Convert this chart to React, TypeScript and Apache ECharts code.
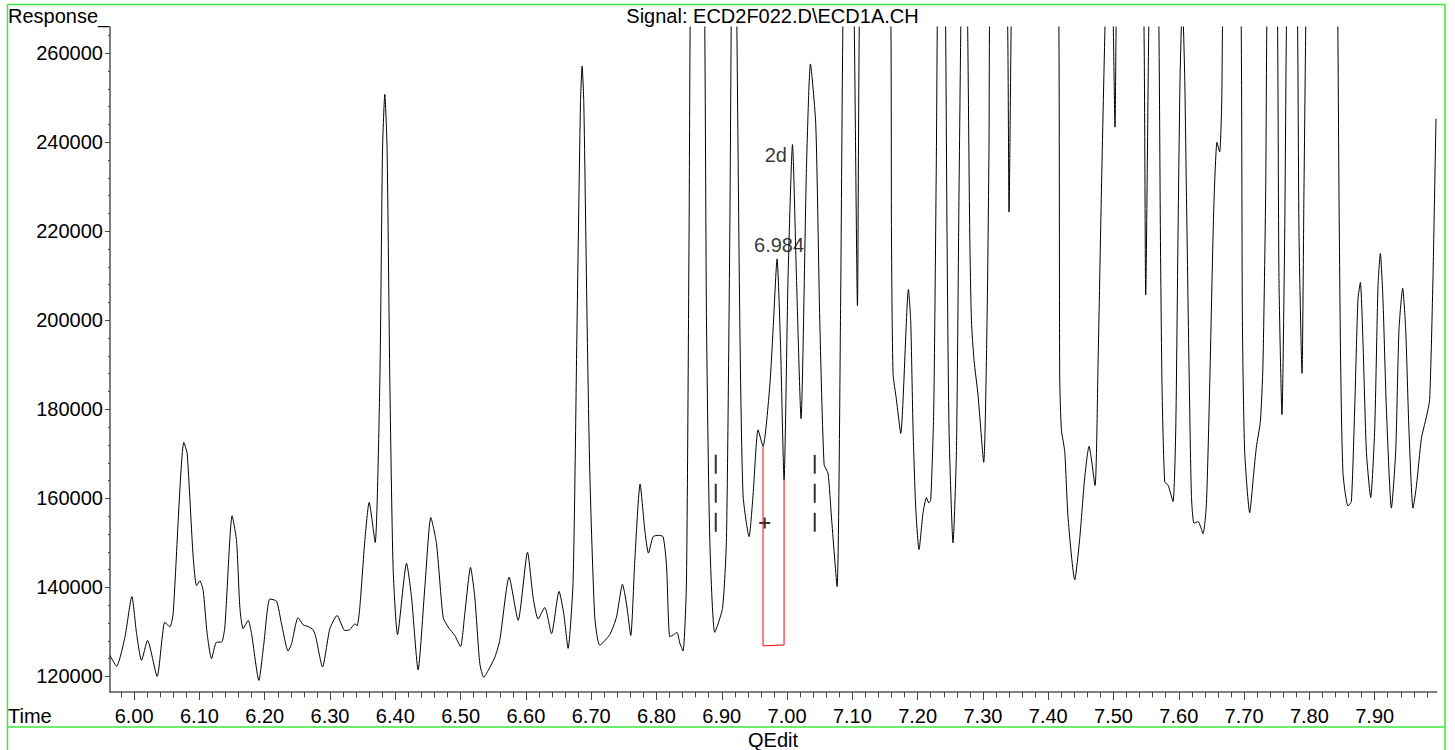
import React, { useEffect, useRef } from "react";
import * as echarts from "echarts";

const FONT = 'Arial, "Liberation Sans", sans-serif';

// Retention time (min)
const times: number[] = [
  5.963, 5.973, 5.9858, 5.9965, 6.0037, 6.0113, 6.0205, 6.0352, 6.047, 6.0547, 6.0597, 6.0761, 6.0812, 6.0904, 6.0956,
  6.1006, 6.1057, 6.1118, 6.1185, 6.1262, 6.1338, 6.1389, 6.1501, 6.1568, 6.1619, 6.1669, 6.1746, 6.1798, 6.191, 6.1986,
  6.2078, 6.2181, 6.2257, 6.2358, 6.241, 6.2511, 6.2588, 6.2665, 6.2741, 6.2783, 6.2885, 6.2997, 6.3109, 6.3227, 6.3303,
  6.338, 6.3415, 6.3456, 6.3533, 6.3599, 6.3691, 6.3763, 6.3804, 6.3839, 6.3874, 6.3916, 6.3966, 6.4034, 6.4172, 6.4248,
  6.4349, 6.4452, 6.4544, 6.4631, 6.4732, 6.4809, 6.4911, 6.4998, 6.5064, 6.5152, 6.5217, 6.5294, 6.5355, 6.5421, 6.5524,
  6.56, 6.5743, 6.5881, 6.6025, 6.611, 6.6187, 6.6289, 6.6392, 6.6508, 6.658, 6.6646, 6.6723, 6.6784, 6.6836, 6.6861,
  6.6887, 6.6937, 6.6979, 6.7055, 6.7132, 6.7285, 6.7387, 6.7479, 6.7541, 6.7606, 6.7668, 6.7749, 6.7821, 6.7877, 6.7948,
  6.8025, 6.8101, 6.8153, 6.8204, 6.8265, 6.8315, 6.8357, 6.8407, 6.8459, 6.8499, 6.8525, 6.8627, 6.873, 6.8766, 6.8816,
  6.8893, 6.9011, 6.9072, 6.9123, 6.9149, 6.9187, 6.9225, 6.9276, 6.9326, 6.9418, 6.9479, 6.9556, 6.9632, 6.9735, 6.9786,
  6.9847, 6.9899, 6.9954, 7.0015, 7.0083, 7.0144, 7.0214, 7.0297, 7.0358, 7.044, 7.0501, 7.0567, 7.0628, 7.068, 7.0766,
  7.0818, 7.0858, 7.0942, 7.1026, 7.1078, 7.1113, 7.135, 7.1588, 7.1599, 7.1623, 7.1675, 7.1741, 7.1859, 7.1894, 7.193,
  7.1971, 7.2021, 7.2083, 7.2135, 7.217, 7.2201, 7.2247, 7.2288, 7.2303, 7.2365, 7.2426, 7.245, 7.2481, 7.2542, 7.2594,
  7.2634, 7.2665, 7.2714, 7.2763, 7.2798, 7.2824, 7.2864, 7.2925, 7.3012, 7.3063, 7.3093, 7.3104, 7.3227, 7.3375, 7.34,
  7.3436, 7.36, 7.38, 7.4, 7.4161, 7.4176, 7.4202, 7.4253, 7.4303, 7.4406, 7.4482, 7.4559, 7.4625, 7.4717, 7.4763,
  7.4815, 7.4876, 7.4934, 7.4992, 7.5023, 7.5044, 7.525, 7.5463, 7.5493, 7.5544, 7.5616, 7.5692, 7.5718, 7.5743, 7.5784,
  7.5835, 7.5911, 7.5953, 7.5988, 7.602, 7.6055, 7.609, 7.6116, 7.6156, 7.6193, 7.6233, 7.6294, 7.6371, 7.6423, 7.6473,
  7.6534, 7.6585, 7.6626, 7.6657, 7.6672, 7.681, 7.6953, 7.6974, 7.7009, 7.7086, 7.7147, 7.7188, 7.725, 7.7289, 7.7331,
  7.7351, 7.743, 7.751, 7.7534, 7.758, 7.7622, 7.7652, 7.773, 7.7816, 7.7841, 7.7887, 7.7917, 7.7948, 7.81, 7.825,
  7.8433, 7.8453, 7.8479, 7.8515, 7.8591, 7.8643, 7.8694, 7.8744, 7.8781, 7.8821, 7.8873, 7.8939, 7.9, 7.9051, 7.9087,
  7.9127, 7.9179, 7.9256, 7.9322, 7.9372, 7.9429, 7.9475, 7.9525, 7.9587, 7.9639, 7.9715, 7.9792, 7.9842, 7.9893, 7.9939,
];

// Detector response
const responses: number[] = [
  124700, 122300, 128800, 137950, 129600, 123600, 128100, 120000, 132200, 131100, 134100, 172600, 170000, 146800, 140400,
  141500, 139300, 129600, 124000, 127700, 127700, 131100, 156100, 150500, 135500, 130700, 132600, 129600, 119100, 127300,
  137400, 136900, 131800, 125700, 127300, 133200, 131600, 131200, 130500, 128800, 122100, 130700, 133700, 130300, 130500,
  131800, 131400, 135500, 150500, 159100, 150100, 186400, 238400, 250800, 238400, 186400, 144500, 129400, 145400, 137800,
  121500, 140000, 155700, 149800, 133300, 131100, 129200, 126700, 134100, 144500, 137800, 122900, 119800, 121300, 124300,
  128100, 142300, 132600, 147900, 137800, 132900, 135500, 129600, 139100, 134100, 126300, 141500, 199900, 248800, 257100,
  248800, 199900, 165600, 133300, 127000, 129400, 133300, 140700, 136300, 129200, 146100, 163200, 152900, 147700, 151400,
  151700, 151400, 145100, 128900, 129400, 129900, 127500, 125700, 141200, 219400, 280000, 330000, 280000, 199900, 151000,
  129900, 135300, 151000, 219400, 275000, 320000, 275000, 199900, 160700, 151400, 160700, 175400, 171700, 185200, 197900,
  213800, 195000, 164100, 209600, 239500, 209600, 177900, 234100, 257600, 243900, 199900, 167600, 165600, 155800, 140200,
  199900, 270000, 330000, 270000, 203300, 275000, 420000, 270000, 219400, 188100, 182200, 174600, 206900, 199900, 175400,
  157800, 148500, 156800, 160200, 159000, 159700, 180300, 239000, 270000, 330000, 270000, 219400, 175400, 150000, 170500,
  229200, 270000, 310000, 270000, 219400, 199900, 191000, 183200, 168100, 199900, 239000, 270000, 340000, 270000, 224300,
  270000, 400000, 500000, 420000, 270000, 187100, 175400, 170500, 155800, 141700, 150900, 164700, 171700, 162900, 190100,
  229200, 270000, 300000, 270000, 243400, 270000, 400000, 270000, 205700, 270000, 320000, 270000, 219400, 185200, 163700,
  163000, 159300, 175400, 219400, 255000, 272000, 255000, 229200, 190100, 160700, 154400, 154800, 152100, 158800, 185200,
  224300, 240000, 237800, 248800, 270000, 380000, 270000, 199900, 170500, 156800, 165600, 171500, 177400, 190100, 229200,
  270000, 320000, 270000, 209600, 178800, 219400, 270000, 320000, 270000, 219400, 188100, 229200, 270000, 420000, 480000,
  270000, 229200, 190100, 165600, 158300, 159300, 180300, 204700, 208500, 195000, 170500, 160200, 175400, 207700, 215000,
  204700, 180300, 157800, 170500, 197900, 207200, 197900, 175400, 157800, 162700, 173400, 178300, 182200, 209600, 245300,
];

const xMajorTicks: number[] = [6.0, 6.1, 6.2, 6.3, 6.4, 6.5, 6.6, 6.7, 6.8, 6.9, 7.0, 7.1, 7.2, 7.3, 7.4, 7.5, 7.6, 7.7, 7.8, 7.9];
const yMajorTicks: number[] = [120000, 140000, 160000, 180000, 200000, 220000, 240000, 260000];

const X_MIN = 5.963;
const X_MAX = 7.995;
const Y_MIN = 116500;
const Y_MAX = 265900;
const X_MINOR_STEP = 0.02;
const Y_MINOR_STEP = 4000;

// Integration box (red) for the 6.984 peak
const boxTimes: number[] = [6.9632, 6.9632, 6.9954, 6.9954];
const boxValues: number[] = [171700, 126850, 127070, 164100];

// Dashed expected-window markers
const windowTimes: number[] = [6.8908, 7.0424];
const windowTop = 169800;
const windowBottom = 151800;

// Cross marker
const crossPoint: number[] = [6.9658, 154480];

// Peak annotations
const peakLabels = [
  { t: 6.9847, v: 213800, text: "6.984" },
  { t: 7.0083, v: 239500, text: "2d" },
];

function buildMinor(min: number, max: number, step: number): number[] {
  const out: number[] = [];
  const start = Math.ceil(min / step);
  const end = Math.floor(max / step);
  for (let k = start; k <= end; k++) out.push(Number((k * step).toFixed(6)));
  return out;
}

export default function App() {
  const ref = useRef<HTMLDivElement>(null);

  useEffect(() => {
    if (!ref.current) return;
    const chart = echarts.init(ref.current, null, { renderer: "svg" });

    const signal = times.map((t, i) => [t, responses[i]]);
    const box = boxTimes.map((t, i) => [t, boxValues[i]]);
    const xMinor = buildMinor(X_MIN, X_MAX, X_MINOR_STEP);
    const yMinor = buildMinor(Y_MIN, Y_MAX, Y_MINOR_STEP);
    const axisColor = "#555";
    const green = "#3ee83e";

    const option: any = {
      animation: false,
      textStyle: { fontFamily: FONT },
      grid: { left: 110, right: 18.3, top: 27, bottom: 58, containLabel: false, outerBoundsMode: "none" },
      xAxis: [
        {
          type: "value",
          min: X_MIN,
          max: X_MAX,
          position: "bottom",
          axisLine: { show: true, lineStyle: { color: axisColor, width: 1.5 } },
          axisTick: { show: true, length: 8, customValues: xMajorTicks, lineStyle: { color: "#444", width: 1 } },
          axisLabel: {
            show: true,
            customValues: xMajorTicks,
            formatter: (v: number) => v.toFixed(2),
            fontSize: 20,
            fontFamily: FONT,
            color: "#000",
            margin: 14,
          },
          splitLine: { show: false },
        },
        {
          type: "value",
          min: X_MIN,
          max: X_MAX,
          position: "bottom",
          axisLine: { show: false },
          axisTick: { show: true, length: 5.5, customValues: xMinor, lineStyle: { color: "#444", width: 1 } },
          axisLabel: { show: false },
          splitLine: { show: false },
        },
      ],
      yAxis: [
        {
          type: "value",
          min: Y_MIN,
          max: Y_MAX,
          position: "left",
          axisLine: { show: true, lineStyle: { color: axisColor, width: 1.5 } },
          axisTick: { show: true, length: 5, customValues: yMajorTicks, lineStyle: { color: "#444", width: 1 } },
          axisLabel: {
            show: true,
            customValues: yMajorTicks,
            formatter: (v: number) => String(Math.round(v)),
            fontSize: 20,
            fontFamily: FONT,
            color: "#000",
            margin: 7,
          },
          splitLine: { show: false },
        },
        {
          type: "value",
          min: Y_MIN,
          max: Y_MAX,
          position: "left",
          axisLine: { show: false },
          axisTick: { show: true, length: 2, customValues: yMinor, lineStyle: { color: "#444", width: 1 } },
          axisLabel: { show: false },
          splitLine: { show: false },
        },
      ],
      series: [
        {
          type: "line",
          data: signal,
          xAxisIndex: 0,
          yAxisIndex: 0,
          symbol: "none",
          smooth: 0.2,
          clip: true,
          lineStyle: { color: "#000", width: 1 },
          silent: true,
        },
        {
          type: "line",
          data: box,
          symbol: "none",
          clip: true,
          lineStyle: { color: "#f00", width: 1 },
          silent: true,
        },
        ...windowTimes.map((t) => ({
          type: "line",
          data: [
            [t, windowTop],
            [t, windowBottom],
          ],
          symbol: "none",
          lineStyle: { color: "#333", width: 2, type: [19, 10] },
          silent: true,
        })),
        {
          type: "scatter",
          data: [crossPoint],
          symbol: "path://M0,4.5h11v2h-11z M4.5,0h2v11h-2z",
          symbolSize: 11,
          itemStyle: { color: "#000" },
          silent: true,
        },
        {
          type: "scatter",
          symbolSize: 1,
          itemStyle: { color: "rgba(0,0,0,0)" },
          silent: true,
          data: peakLabels.map((p, i) => ({
            value: [p.t, p.v],
            label: {
              show: true,
              formatter: p.text,
              fontSize: 20,
              fontFamily: FONT,
              color: "#000",
              position: i === 0 ? "top" : "left",
              distance: i === 0 ? 3 : 5,
              offset: i === 0 ? [2, 0] : [0, 10],
            },
          })),
        },
      ],
      graphic: [
        {
          type: "rect",
          shape: { x: 7.5, y: 4.5, width: 1437.5, height: 722.5 },
          style: { fill: "none", stroke: green, lineWidth: 1.5 },
          silent: true,
        },
        {
          type: "line",
          shape: { x1: 7.5, y1: 727, x2: 7.5, y2: 750 },
          style: { stroke: green, lineWidth: 1.5 },
          silent: true,
        },
        {
          type: "line",
          shape: { x1: 1445, y1: 727, x2: 1445, y2: 750 },
          style: { stroke: green, lineWidth: 1.5 },
          silent: true,
        },
        {
          type: "text",
          x: 8,
          y: 16,
          style: { text: "Response_", fontSize: 20, fontFamily: FONT, fill: "#000", textAlign: "left", textVerticalAlign: "middle" },
          silent: true,
        },
        {
          type: "text",
          x: 772.5,
          y: 16,
          style: {
            text: "Signal: ECD2F022.D\\ECD1A.CH",
            fontSize: 20,
            fontFamily: FONT,
            fill: "#000",
            textAlign: "center",
            textVerticalAlign: "middle",
          },
          silent: true,
        },
        {
          type: "text",
          x: 8,
          y: 716.4,
          style: { text: "Time", fontSize: 20, fontFamily: FONT, fill: "#000", textAlign: "left", textVerticalAlign: "middle" },
          silent: true,
        },
        {
          type: "text",
          x: 773,
          y: 739.8,
          style: { text: "QEdit", fontSize: 20, fontFamily: FONT, fill: "#000", textAlign: "center", textVerticalAlign: "middle" },
          silent: true,
        },
      ],
    };

    chart.setOption(option);
    return () => chart.dispose();
  }, []);

  return (
    <div
      ref={ref}
      style={{ position: "fixed", left: 0, top: 0, width: 1455, height: 750, background: "#fff" }}
    />
  );
}
